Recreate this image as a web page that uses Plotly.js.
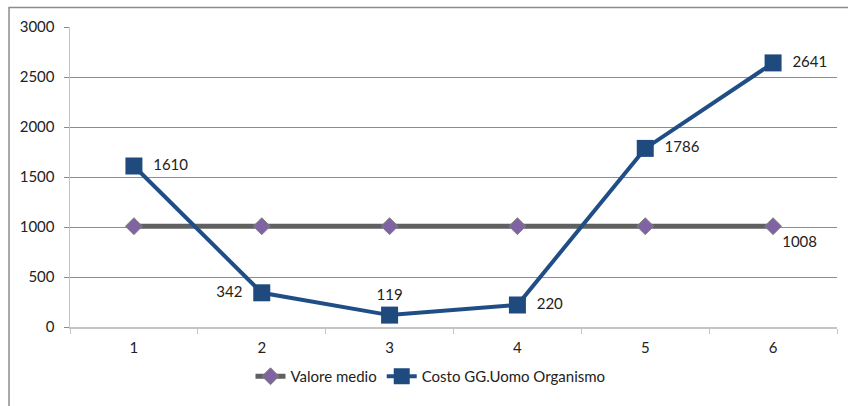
<!DOCTYPE html>
<html><head><meta charset="utf-8">
<script src="https://cdn.plot.ly/plotly-3.0.1.min.js"></script>
<style>html,body{margin:0;padding:0;background:#fff;}#chart{width:848px;height:406px;}</style>
</head><body><div id="chart"></div>
<script>
const categories = ["1","2","3","4","5","6"];
const valoreMedio = [1008,1008,1008,1008,1008,1008];
const costo = [1610,342,119,220,1786,2641];
const mediaLabels = ["","","","","","1008"];
const costoLabels = costo.map(String);
const costoPos = ["middle right","middle left","top center","middle right","middle right","middle right"];

const NB = "\u00a0\u00a0";
const costoText = costoLabels.map((t,i)=> costoPos[i]==="middle right" ? NB+t : (costoPos[i]==="middle left" ? t+NB : t));

const font = {family:"Lato, 'Open Sans', sans-serif", size:15, color:"#222"};
const traces = [
 {x:categories, y:valoreMedio, name:"Valore medio", type:"scatter", mode:"lines+markers+text",
  text:mediaLabels, textposition:"bottom right", textfont:font, cliponaxis:false,
  line:{color:"#606060", width:5},
  marker:{symbol:"diamond", size:13, color:"#8064A2", line:{color:"#7f7f7f", width:1}}},
 {x:categories, y:costo, name:"Costo GG.Uomo Organismo", type:"scatter", mode:"lines+markers+text",
  text:costoText, textposition:costoPos, textfont:font, cliponaxis:false,
  line:{color:"#1F4E86", width:4},
  marker:{symbol:"square", size:17, color:"#1F4A7E"}}
];
const layout = {
 width:848, height:406, margin:{l:70, r:11, t:27, b:79},
 paper_bgcolor:"#fff", plot_bgcolor:"#fff", font:font, showlegend:true,
 legend:{orientation:"h", x:0.47, xanchor:"center", y:-0.165, yanchor:"middle", font:font},
 xaxis:{type:"category", range:[-0.5,5.5], showgrid:false, showline:true, linecolor:"#c4c4c4", linewidth:1.5,
  ticks:"outside", tickson:"boundaries", ticklen:5, tickcolor:"#c4c4c4", tickfont:font, zeroline:false,
  ticklabelstandoff:6, automargin:false},
 yaxis:{range:[0,3000], dtick:500, showgrid:true, gridcolor:"#8c8c8c", gridwidth:1,
  showline:true, linecolor:"#c4c4c4", linewidth:1.5, ticks:"outside", ticklen:5, tickcolor:"#8c8c8c",
  tickfont:font, zeroline:false, fixedrange:true, ticklabelstandoff:6, automargin:false},
 shapes:[{type:"rect", xref:"paper", yref:"paper", x0:-0.0795, x1:1.05, y0:-0.4, y1:1.065,
  line:{color:"#8c8c8c", width:1.5}, fillcolor:"rgba(0,0,0,0)", layer:"below"}]
};
Plotly.newPlot("chart", traces, layout, {displayModeBar:false, staticPlot:true});
</script></body></html>
